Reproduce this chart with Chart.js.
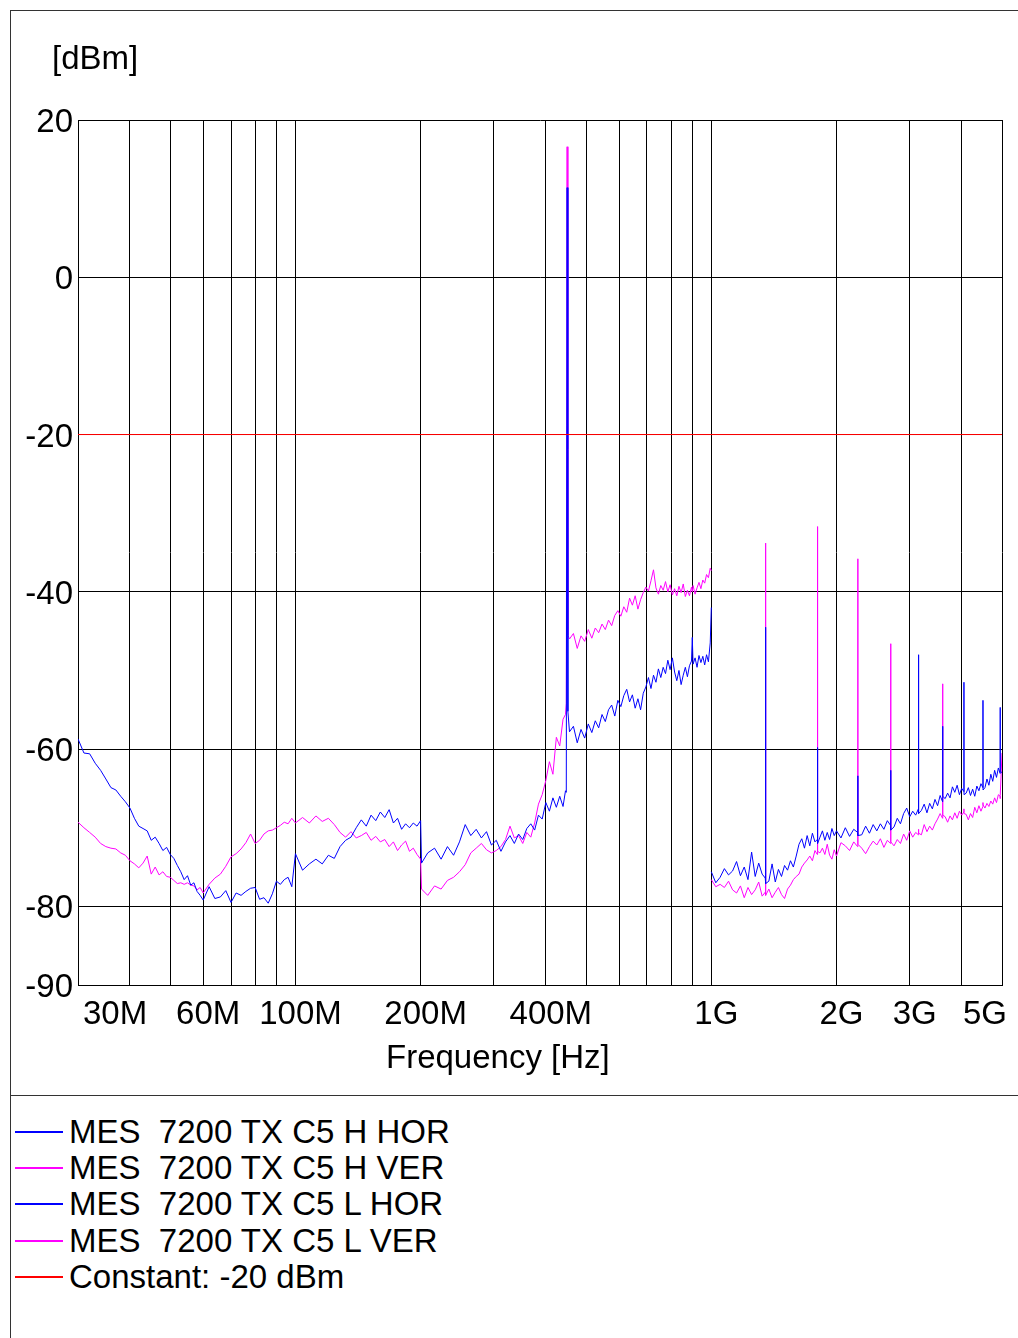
<!DOCTYPE html>
<html><head><meta charset="utf-8">
<script src="https://cdn.jsdelivr.net/npm/chart.js@4.4.1/dist/chart.umd.min.js"></script>
<style>
body{margin:0;background:#fff;}
#wrap{position:relative;width:1018px;height:1338px;overflow:hidden;background:#fff;font-family:"Liberation Sans",Arial,sans-serif;}
#c{position:absolute;left:0;top:0;}
.txt{position:absolute;font-size:33px;line-height:36px;color:#000;white-space:pre;}
.frame{position:absolute;background:#333;}
.sw{position:absolute;height:2px;left:15px;width:48px;}
</style></head><body>
<div id="wrap">
<canvas id="c" width="1018" height="1095"></canvas>
<div class="frame" style="left:10px;top:10px;width:1px;height:1328px"></div>
<div class="frame" style="left:10px;top:10px;width:1008px;height:1px"></div>
<div class="frame" style="left:10px;top:1095px;width:1008px;height:1px"></div>
<div class="txt" style="left:52px;top:40px">[dBm]</div>
<div class="txt" style="left:386px;top:1039px">Frequency [Hz]</div>
<div id="legend"></div>
</div>
<script>
// ---- data (frequency in MHz, level in dBm) ----
const hFreq = [30,31,32,33,34,35,36,37,38,39,40,41,42,43,44,45,46,47,48,49,50,51,52,53,54,55,56,57,58,59,60,
62,64,66,68,70,72,74,76,78,80,82,84,86,88,90,92,94,96,98,100,
104,108,112,116,120,124,128,132,136,140,144,148,152,156,160,164,168,172,176,180,184,188,192,196,200,
201,208,216,224,232,240,248,256,264,272,280,288,296,304,312,320,328,336,344,352,360,368,376,384,392,400,408,416,424,432,440,446,448,450,452,456,
466,476,486,496,506,516,526,536,546,556,566,576,586,596,606,616,626,636,646,656,666,676,686,696,706,716,726,736,746,756,766,776,786,796,806,816,826,836,846,856,866,876,886,896,
900,904,914,924,934,944,954,964,974,984,994,1000];

const hHor = [-58.7,-60.5,-60.6,-61.8,-62.7,-63.8,-64.9,-65.2,-66.0,-66.7,-67.5,-68.8,-69.8,-70.1,-70.4,-71.6,-71.2,-72.0,-72.9,-72.5,-73.4,-73.9,-74.8,-75.6,-76.6,-76.1,-77.3,-77.0,-78.1,-78.6,-79.2,
-77.5,-79.0,-78.8,-78.0,-79.5,-78.3,-78.6,-78.1,-77.7,-77.6,-79.1,-78.9,-79.6,-78.4,-76.8,-77.2,-76.6,-76.3,-77.5,-73.3,
-75.4,-74.6,-74.0,-74.6,-73.5,-73.9,-72.4,-71.6,-71.2,-70.0,-69.0,-69.8,-68.4,-69.1,-68.0,-68.7,-67.7,-69.4,-68.8,-70.2,-69.5,-70.0,-69.4,-69.8,-69.1,
-74.5,-73.2,-72.6,-74.0,-72.4,-73.5,-71.8,-69.6,-71.0,-70.2,-71.3,-70.5,-72.2,-71.6,-73.0,-71.8,-71.0,-72.0,-70.8,-71.5,-70.1,-69.5,-70.3,-68.4,-68.9,-66.8,-67.9,-66.2,-67.4,-66.0,-67.3,-65.3,-65.5,11.4,-55.2,-57.8,
-57.1,-59.2,-57.5,-58.6,-56.8,-57.9,-56.4,-57.3,-55.6,-56.5,-55.0,-54.4,-55.8,-53.8,-54.6,-53.2,-52.4,-54.0,-53.1,-54.8,-53.6,-55.0,-52.9,-52.1,-50.9,-52.3,-50.6,-51.5,-49.8,-50.9,-49.6,-50.4,-48.7,-49.9,-48.4,-50.2,-51.3,-50.0,-51.8,-50.6,-49.6,-50.8,-49.4,-48.8,
-45.8,-49.2,-48.4,-49.6,-48.1,-49.0,-48.2,-49.3,-48.0,-48.9,-46.5,-42.0];

const hVer = [-69.3,-70.0,-70.6,-71.2,-72.0,-72.4,-72.6,-72.7,-73.2,-73.5,-74.2,-74.6,-75.1,-74.5,-73.6,-75.9,-75.0,-76.0,-75.6,-76.2,-76.3,-76.7,-77.1,-77.0,-77.2,-77.0,-77.3,-77.4,-77.9,-77.6,-78.3,
-77.2,-76.4,-75.9,-74.9,-73.7,-73.3,-72.7,-71.9,-70.8,-72.0,-71.6,-70.8,-70.4,-70.3,-70.0,-69.7,-69.3,-69.5,-68.8,-69.4,
-68.7,-69.4,-68.5,-69.2,-68.8,-69.6,-70.6,-71.2,-70.5,-71.3,-71.0,-70.6,-71.6,-71.1,-71.8,-71.5,-72.4,-71.8,-72.9,-72.2,-71.7,-73.0,-72.6,-73.4,-74.0,
-77.8,-78.6,-77.4,-77.8,-76.7,-76.3,-75.6,-74.7,-73.2,-72.6,-72.0,-72.8,-73.2,-72.9,-72.4,-71.5,-69.8,-71.3,-71.0,-72.0,-70.6,-71.2,-69.4,-67.0,-65.8,-64.0,-61.6,-63.2,-58.5,-59.6,-56.2,-55.6,-54.2,16.6,-45.5,-46.0,
-45.3,-47.2,-45.6,-46.3,-44.8,-45.9,-44.6,-45.2,-44.1,-44.8,-43.6,-44.3,-43.0,-42.4,-43.1,-41.9,-42.6,-40.8,-41.7,-40.5,-42.2,-41.0,-40.1,-39.4,-39.9,-38.6,-37.2,-39.5,-40.3,-39.2,-39.8,-38.7,-40.0,-39.1,-40.4,-39.6,-40.5,-39.3,-40.1,-39.0,-40.6,-39.8,-40.5,-39.4,
-40.0,-39.2,-40.3,-39.5,-38.8,-39.6,-38.5,-38.9,-37.8,-38.2,-37.0,-37.3];

const lFreq = [1000,1025,1050,1075,1100,1125,1150,1175,1200,1225,1250,1275,1300,1325,1348,1350,1352,1375,1400,1425,1450,1475,1500,1525,1550,1575,1600,1625,1650,1675,1700,1725,1750,1775,1798,1800,1802,1825,1850,1875,1900,1925,1950,1975,2000,
2050,2100,2150,2200,2248,2250,2252,2300,2350,2400,2450,2500,2550,2600,2650,2698,2700,2702,2750,2800,2850,2900,2950,3000,3050,3100,3148,3150,3152,3200,3250,3300,3350,3400,3450,3500,3550,3598,3600,3602,3650,3700,3750,3800,3850,3900,3950,4000,4048,4050,4052,4100,4150,4200,4250,4300,4350,4400,4450,4498,4500,4502,4550,4600,4650,4700,4750,4800,4850,4900,4948,4950,4952,5000];

const lHor = [-75.6,-77.0,-76.3,-75.2,-76.0,-75.5,-74.3,-76.1,-75.0,-76.6,-73.1,-76.2,-74.5,-75.9,-76.4,-44.5,-77.1,-76.8,-74.6,-76.9,-75.3,-76.2,-74.8,-75.4,-74.2,-75.0,-73.6,-72.1,-71.4,-72.6,-71.0,-72.3,-70.7,-71.8,-71.5,-59.8,-72.0,-71.2,-70.4,-71.6,-70.6,-71.5,-70.1,-71.0,-70.4,
-71.3,-70.0,-71.1,-70.2,-70.6,-63.4,-71.0,-70.9,-69.8,-70.7,-69.6,-70.4,-69.5,-70.2,-69.1,-69.7,-62.7,-70.3,-69.9,-68.8,-69.5,-68.2,-67.5,-68.6,-67.9,-68.4,-67.6,-48.0,-68.2,-67.8,-67.0,-68.1,-66.9,-67.6,-66.4,-67.2,-65.9,-66.7,-57.1,-66.0,-66.3,-65.6,-66.2,-64.8,-65.5,-64.6,-65.8,-65.0,-65.4,-51.5,-65.8,-65.6,-64.9,-65.9,-65.1,-66.0,-64.7,-65.3,-64.4,-64.9,-53.8,-65.2,-64.9,-63.8,-64.6,-63.2,-64.1,-62.7,-63.6,-62.4,-63.1,-54.7,-62.8,-63.0];

const lVer = [-76.6,-77.5,-77.2,-77.6,-76.8,-77.9,-78.3,-77.4,-78.9,-77.6,-78.5,-77.9,-76.9,-78.7,-78.2,-33.8,-78.6,-77.8,-78.9,-78.2,-77.6,-78.5,-79.0,-77.8,-77.3,-76.6,-76.2,-75.9,-75.0,-74.5,-74.1,-73.6,-74.2,-72.9,-73.4,-31.7,-73.0,-73.2,-72.6,-73.4,-72.1,-73.5,-74.0,-72.8,-73.6,
-71.9,-72.3,-72.9,-71.8,-72.4,-35.8,-72.1,-72.6,-73.3,-72.4,-71.7,-72.2,-71.4,-72.5,-71.6,-72.0,-46.6,-71.8,-72.3,-71.5,-72.0,-70.8,-71.6,-70.4,-71.2,-70.6,-70.9,-70.2,-70.7,-70.9,-69.6,-70.5,-69.8,-70.3,-69.5,-68.9,-68.2,-68.8,-51.7,-68.4,-68.6,-69.3,-68.5,-69.0,-68.1,-68.8,-67.9,-68.4,-68.0,-67.6,-68.2,-68.3,-69.0,-68.2,-68.7,-67.4,-68.1,-67.2,-67.9,-67.3,-66.8,-67.1,-67.5,-66.9,-67.3,-66.6,-67.0,-66.2,-66.8,-65.8,-66.0,-66.3,-65.9,-60.5];

const constFreq = [30, 5000];
const constVal = [-20, -20];

const xGridValues = [30,40,50,60,70,80,90,100,200,300,400,500,600,700,800,900,1000,2000,3000,4000,5000];
const xLabelValues = [30,60,100,200,400,1000,2000,3000,5000];
const xTickLabels = ['30M','60M','100M','200M','400M','1G','2G','3G','5G'];
const yTickValues = [-90,-80,-60,-40,-20,0,20];

const seriesLabels = ['MES  7200 TX C5 H HOR','MES  7200 TX C5 H VER','MES  7200 TX C5 L HOR','MES  7200 TX C5 L VER','Constant: -20 dBm'];
const BLUE = '#0000ff', MAG = '#ff00ff', RED = '#ff0000';
const seriesColors = [BLUE, MAG, BLUE, MAG, RED];

// ---- chart ----
Chart.defaults.font.family = '"Liberation Sans", Arial, sans-serif';
Chart.defaults.color = '#000';

function mk(i, fr, vals) {
  return {
    label: seriesLabels[i],
    data: fr.map((f, k) => ({x: f, y: vals[k]})),
    borderColor: seriesColors[i], backgroundColor: seriesColors[i],
    borderWidth: 1, pointRadius: 0, fill: false, tension: 0
  };
}

new Chart(document.getElementById('c'), {
  type: 'line',
  data: {datasets: [
    mk(4, constFreq, constVal),
    mk(0, hFreq, hHor),
    mk(1, hFreq, hVer),
    mk(2, lFreq, lHor),
    mk(3, lFreq, lVer)
  ]},
  options: {
    responsive: false, animation: false, devicePixelRatio: 1,
    layout: {padding: {left: 0, top: 120, right: 16, bottom: 0}},
    plugins: {legend: {display: false}, tooltip: {enabled: false}, title: {display: false}},
    scales: {
      x: {
        type: 'logarithmic', min: 30, max: 5000, position: 'bottom',
        afterBuildTicks: s => { s.ticks = xGridValues.map(v => ({value: v})); },
        afterFit: s => { s.height = 110; },
        grid: {color: '#000', lineWidth: 1, drawTicks: false},
        border: {color: '#000', width: 1},
        ticks: {
          autoSkip: false, maxRotation: 0, minRotation: 0, align: 'inner', labelOffset: 5,
          padding: 10, color: '#000', font: {size: 33},
          callback: v => { const i = xLabelValues.indexOf(Math.round(v)); return i >= 0 ? xTickLabels[i] : ''; }
        }
      },
      y: {
        type: 'linear', min: -90, max: 20,
        afterBuildTicks: s => { s.ticks = yTickValues.map(v => ({value: v})); },
        afterFit: s => { s.width = 78; },
        grid: {color: '#000', lineWidth: 1, drawTicks: false},
        border: {color: '#000', width: 1},
        ticks: {autoSkip: false, padding: 5, labelOffset: 3, color: '#000', font: {size: 33}}
      }
    }
  }
});

// ---- legend (HTML text) ----
const leg = document.getElementById('legend');
seriesLabels.forEach((lab, r) => {
  const top = Math.round(1114 + r * 36.2);
  const sw = document.createElement('div');
  sw.className = 'sw';
  sw.style.top = (top + 17) + 'px';
  sw.style.background = seriesColors[r];
  leg.appendChild(sw);
  const t = document.createElement('div');
  t.className = 'txt';
  t.style.left = '69px';
  t.style.top = top + 'px';
  t.textContent = lab;
  leg.appendChild(t);
});
</script>
</body></html>
